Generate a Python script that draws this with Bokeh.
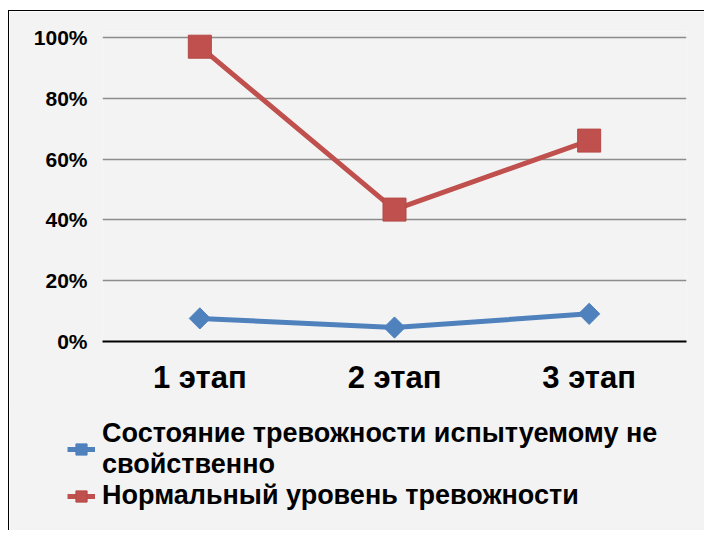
from bokeh.plotting import figure
from bokeh.models import FactorRange, Range1d, Legend, LegendItem, NumeralTickFormatter, FixedTicker
from bokeh.embed import file_html
from bokeh.resources import INLINE
import numpy as np

stages = ["1 этап", "2 этап", "3 этап"]
not_typical = [0.076, 0.046, 0.091]
normal_level = [0.97, 0.434, 0.661]
y_ticks = [0, 0.2, 0.4, 0.6, 0.8, 1.0]
series_names = ["Состояние тревожности испытуемому не\nсвойственно",
                "Нормальный уровень тревожности"]

BLUE = "#4F81BD"
RED = "#C0504D"
BG = "#f3f3f3"
FONT = "Liberation Sans"

p = figure(width=696, height=400, x_range=FactorRange(*stages),
           y_range=Range1d(0, 1.02), output_backend="svg", toolbar_location=None,
           min_border_left=93, min_border_right=19, min_border_top=20, min_border_bottom=70)
p.styles = {"border-left": "1px solid #000", "border-top": "1px solid #000",
            "margin-left": "8px", "margin-top": "10px"}
p.background_fill_color = BG
p.border_fill_color = BG
p.outline_line_color = None

blue_line = dict(line_color=BLUE, line_width=5)
blue_mark = dict(marker="square", angle=np.pi / 4, size=15, fill_color=BLUE, line_color=BLUE)
red_line = dict(line_color=RED, line_width=5)
red_mark = dict(marker="square", size=23, fill_color=RED, line_color="#B44845", line_width=1)

p.line(stages, not_typical, **blue_line)
p.scatter(stages, not_typical, **blue_mark)
p.line(stages, normal_level, **red_line)
p.scatter(stages, normal_level, **red_mark)

p.xgrid.grid_line_color = None
p.ygrid.grid_line_color = "#8c8c8c"
p.ygrid.grid_line_width = 1.5
p.ygrid.ticker = FixedTicker(ticks=y_ticks[1:])

p.yaxis.ticker = FixedTicker(ticks=y_ticks)
p.yaxis.formatter = NumeralTickFormatter(format="0%")
p.yaxis.axis_line_color = None
p.yaxis.major_tick_line_color = None
p.yaxis.minor_tick_line_color = None
p.yaxis.major_label_text_font = FONT
p.yaxis.major_label_text_font_style = "bold"
p.yaxis.major_label_text_font_size = "21px"
p.yaxis.major_label_text_color = "#000000"
p.yaxis.major_label_standoff = 9

p.xaxis.axis_line_color = "#000000"
p.xaxis.axis_line_width = 2
p.xaxis.major_tick_line_color = None
p.xaxis.minor_tick_line_color = None
p.xaxis.major_label_text_font = FONT
p.xaxis.major_label_text_font_style = "bold"
p.xaxis.major_label_text_font_size = "31px"
p.xaxis.major_label_text_color = "#000000"
p.xaxis.major_label_standoff = 12

# legend strip (separate root so its frame covers the whole strip)
p2 = figure(width=696, height=121, x_range=FactorRange(*stages), y_range=Range1d(5, 6),
            output_backend="svg", toolbar_location=None,
            min_border_left=0, min_border_right=0, min_border_top=0, min_border_bottom=0)
p2.styles = {"border-left": "1px solid #000", "margin-left": "8px", "margin-top": "-1px"}
p2.background_fill_color = BG
p2.border_fill_color = BG
p2.outline_line_color = None
p2.axis.visible = False
p2.grid.visible = False
l1 = p2.line(stages, not_typical, **blue_line)
m1 = p2.scatter(stages, not_typical, **blue_mark)
l2 = p2.line(stages, normal_level, **red_line)
m2 = p2.scatter(stages, normal_level, **red_mark)

legend = Legend(items=[LegendItem(label=series_names[0], renderers=[l1, m1]),
                       LegendItem(label=series_names[1], renderers=[l2, m2])],
                location=(58, 19))
legend.label_text_font = FONT
legend.label_text_font_size = "27px"
legend.label_text_font_style = "bold"
legend.label_text_color = "#000000"
legend.label_text_line_height = 0.99
legend.glyph_width = 28
legend.glyph_height = 30
legend.label_standoff = 7
legend.spacing = 0
legend.padding = 0
legend.margin = 0
legend.background_fill_alpha = 0
legend.border_line_alpha = 0
p2.add_layout(legend, "center")

open("out.html", "w").write(file_html([p, p2], INLINE))
